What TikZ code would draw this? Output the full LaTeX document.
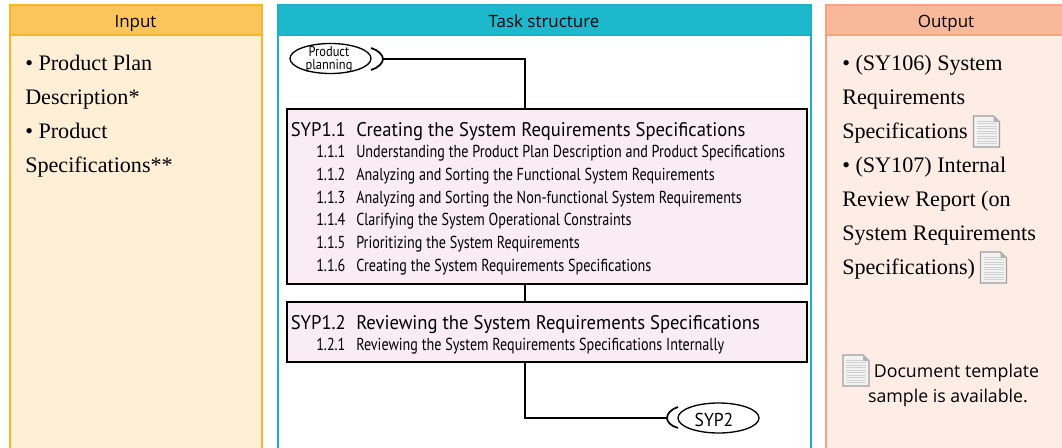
\documentclass[tikz,border=0pt]{standalone}
\usepackage{fontspec}
\setmainfont{Liberation Serif}
\newfontfamily\hdfont{Open Sans}
\newfontfamily\headcond[FakeStretch=0.945]{PT Sans}
\newfontfamily\subcond[FakeStretch=0.816]{PT Sans}
\newfontfamily\ppcond[FakeStretch=0.88]{PT Sans}
\definecolor{inH}{HTML}{FBC55C}
\definecolor{inB}{HTML}{FEEFD6}
\definecolor{inL}{HTML}{FBB52B}
\definecolor{taH}{HTML}{1DB8CC}
\definecolor{taL}{HTML}{1DB0C8}
\definecolor{ouH}{HTML}{F8B99B}
\definecolor{ouB}{HTML}{FEEDE5}
\definecolor{ouL}{HTML}{F9A07F}
\definecolor{stepfill}{HTML}{F9ECF3}
\tikzset{
  x=0.75pt,y=-0.75pt,
  panelhead/.style={anchor=base,inner sep=0pt,font=\hdfont\fontsize{12.7}{14}\selectfont},
  bodytext/.style={anchor=base west,inner sep=0pt,font=\fontsize{16.6}{18}\selectfont},
  stepbox/.style={draw=black,line width=1.5pt,fill=stepfill},
  steptitle/.style={anchor=base west,inner sep=0pt,font=\headcond\fontsize{14.8}{16}\selectfont},
  subtext/.style={anchor=base west,inner sep=0pt,font=\subcond\fontsize{13}{15}\selectfont},
  term/.style={draw=black,line width=1pt,ellipse,fill=white,inner sep=0pt},
  conn/.style={draw=black,line width=1.3pt},
  bracket/.style={draw=black,line width=1.3pt},
  notetext/.style={anchor=base,inner sep=0pt,font=\hdfont\fontsize{13.3}{15}\selectfont},
  pplabelstyle/.style={anchor=base,inner sep=0pt,font=\ppcond\fontsize{10.6}{11}\selectfont},
}
\newcommand{\docicon}[2]{%
  \fill[black!5] (#1,#2) -- ++(20,0) -- ++(6,6) -- ++(0,25) -- ++(-26,0) -- cycle;
  \foreach \yy in {5,7.5,...,28}{\draw[black!18,line width=0.5pt] (#1+3,#2+\yy) -- ++(20,0);}
  \draw[black!38,line width=1pt] (#1,#2) -- ++(20,0) -- ++(6,6) -- ++(0,25) -- ++(-26,0) -- cycle;
  \fill[black!30] (#1+20,#2) -- ++(0,6) -- ++(6,0) -- cycle;
}
\usetikzlibrary{shapes.geometric}
\begin{document}
\begin{tikzpicture}
\useasboundingbox (0,0) rectangle (1062,448);
\fill[white] (0,0) rectangle (1062,448);
% Input
\fill[inB] (10,5) rectangle (262,449);
\draw[inL,line width=1pt] (10,449) -- (10,5) -- (262,5) -- (262,449);
\fill[inH] (10,5) rectangle (262,35);
\draw[inL,line width=1pt] (10,5) rectangle (262,35);
\node[panelhead] (inputhead) at (135.5,28) {Input};
\node[bodytext] (i1) at (25,71) {• Product Plan};
\node[bodytext] (i2) at (25,105) {Description*};
\node[bodytext] (i3) at (25,139) {• Product};
\node[bodytext] (i4) at (25,173) {Specifications**};
% Task
\draw[taL,line width=1pt] (278,449) -- (278,5) -- (811,5) -- (811,449);
\fill[taH] (278,5) rectangle (811,35);
\draw[taL,line width=1pt] (278,5) rectangle (811,35);
\node[panelhead] (taskhead) at (544,28) {Task structure};
% Output
\fill[ouB] (826,5) rectangle (1063,449);
\draw[ouL,line width=1pt] (826,449) -- (826,5) -- (1063,5);
\fill[ouH] (826,5) rectangle (1063,35);
\draw[ouL,line width=1pt] (826,35) -- (826,5) -- (1063,5) (826,35) -- (1063,35);
\node[panelhead] (outputhead) at (946,28) {Output};
\node[bodytext] (o1) at (842,71) {• (SY106) System};
\node[bodytext] (o2) at (842,105) {Requirements};
\node[bodytext] (o3) at (842,139) {Specifications};
\node[bodytext] (o4) at (842,173) {• (SY107) Internal};
\node[bodytext] (o5) at (842,207) {Review Report (on};
\node[bodytext] (o6) at (842,241) {System Requirements};
\node[bodytext] (o7) at (842,275) {Specifications)};
\docicon{973.5}{116}
\docicon{980.5}{252}
\docicon{843}{355}
\node[notetext] (tmpl1) at (956.5,378) {Document template};
\node[notetext] (tmpl2) at (948,402) {sample is available.};
% Boxes
\node[stepbox,minimum width=520*0.75pt,minimum height=175*0.75pt,inner sep=0pt,anchor=north west] (s11) at (286,108) {};
\node[stepbox,minimum width=520*0.75pt,minimum height=60*0.75pt,inner sep=0pt,anchor=north west] (s12) at (286,301) {};
\node[term,minimum width=81*0.75pt,minimum height=30*0.75pt] (pp) at (330.5,58.5) {};
\node[pplabelstyle] (pplabel1) at (329,57) {Product};
\node[pplabelstyle] (pplabel2) at (329,70) {planning};
\node[term,minimum width=81*0.75pt,minimum height=30*0.75pt] (sy) at (718.5,418) {};
\node[inner sep=0pt,font=\headcond\fontsize{14}{16}\selectfont] (sylabel) at (714,419.5) {SYP2};
\coordinate (ppout) at (383,59);
\coordinate (syin) at (667,418);
\coordinate (in11) at (525,108);
\coordinate (out11) at (525,283);
\coordinate (in12) at (525,301);
\coordinate (out12) at (525,361);
\draw[bracket] (371,48) .. controls (378,50) and (383,55) .. (383,59) .. controls (383,63) and (378,68) .. (371,70);
\draw[bracket] (678,407) .. controls (671,409) and (667,414) .. (667,418) .. controls (667,422) and (671,426) .. (678,428);
\draw[conn] (ppout) -| (in11);
\draw[conn] (out11) -- (in12);
\draw[conn] (out12) |- (syin);
% Titles
\node[steptitle] (t1a) at (290.5,137) {SYP1.1};
\node[steptitle] (t1b) at (356,137) {Creating the System Requirements Specifications};
\node[steptitle] (t2a) at (290.5,330) {SYP1.2};
\node[steptitle] (t2b) at (356,330) {Reviewing the System Requirements Specifications};
\foreach \n/\yy/\tx in {
 1.1.1/158/Understanding the Product Plan Description and Product Specifications,
 1.1.2/181/Analyzing and Sorting the Functional System Requirements,
 1.1.3/204/Analyzing and Sorting the Non-functional System Requirements,
 1.1.4/226/Clarifying the System Operational Constraints,
 1.1.5/249/Prioritizing the System Requirements,
 1.1.6/272/Creating the System Requirements Specifications,
 1.2.1/351/Reviewing the System Requirements Specifications Internally}{
  \node[subtext] (n\n) at (316,\yy) {\n};
  \node[subtext] (x\n) at (356,\yy) {\tx};
}
\end{tikzpicture}
\end{document}
